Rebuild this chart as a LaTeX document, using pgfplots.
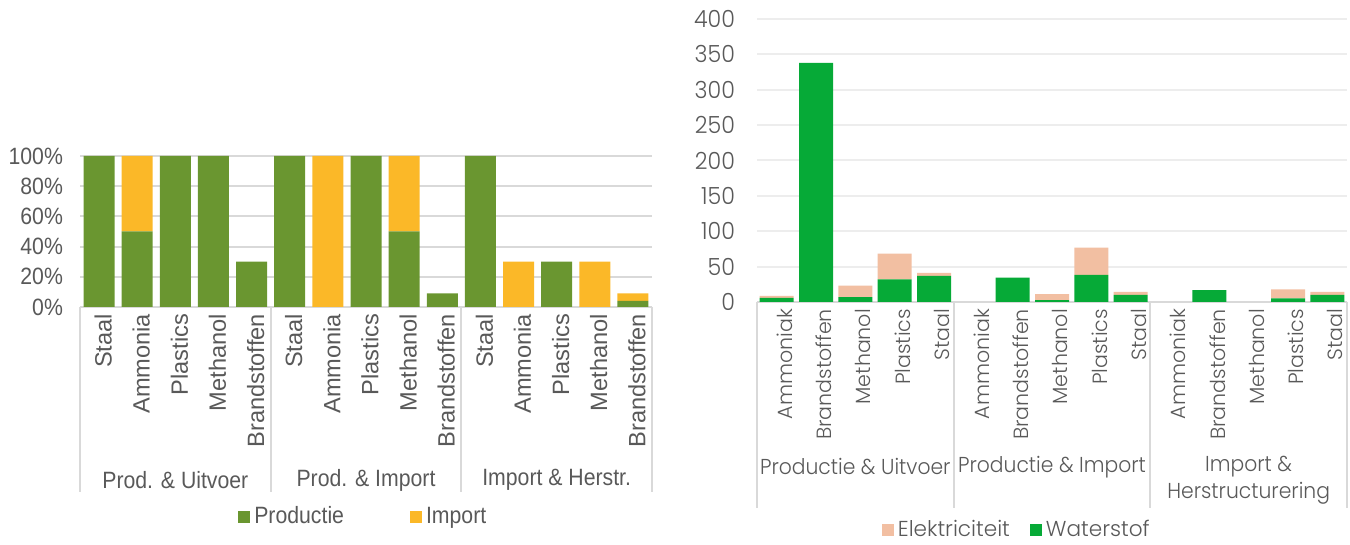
\documentclass[border=0pt]{standalone}
\usepackage{pgfplots}
\pgfplotsset{compat=1.18}
\usepackage{pgfplotstable}
\usepackage{fontspec}
\setmainfont{Liberation Sans}
\newfontfamily\narrowsans{Liberation Sans}[FakeStretch=0.9]
\newfontfamily\pop{Poppins Light}
\newfontfamily\narrowpop{Poppins Light}[FakeStretch=0.94]
\definecolor{prodgreen}{HTML}{6A9630}
\definecolor{impyellow}{HTML}{FBB828}
\definecolor{wgreen}{HTML}{06AA37}
\definecolor{epeach}{HTML}{F2BFA2}
\definecolor{txtgray}{HTML}{595959}
\definecolor{gridl}{HTML}{D9D9D9}
\definecolor{gridr}{HTML}{EDEDED}
\definecolor{sepgray}{HTML}{D9D9D9}

\pgfplotstableread{
x prod imp
0 100 0
1 50 50
2 100 0
3 100 0
4 30 0
5 100 0
6 0 100
7 100 0
8 50 50
9 9 0
10 100 0
11 0 30
12 30 0
13 0 30
14 4 5
}\lefttab

\pgfplotstableread{
x w e
0 6 2.5
1 338 0
2 7 16
3 32 36.5
4 37 4
5 0 0
6 34.5 0
7 2.5 8.5
8 38.5 38.5
9 10 4.3
10 0 0
11 16.7 0
12 0 0
13 5.2 12.8
14 10 4.3
}\righttab

\begin{document}
\begin{tikzpicture}[x=1pt,y=1pt]
\path[use as bounding box] (0,0) rectangle (675,272.5);

% ---------------- left chart ----------------
\begin{axis}[
  at={(40pt,119pt)}, anchor=south west,
  scale only axis, width=286pt, height=75.5pt,
  ybar stacked, bar width=15.5pt,
  xmin=-0.5, xmax=14.5, ymin=0, ymax=100,
  axis line style={draw=none},
  major tick length=0pt,
  ytick={0,20,40,60,80,100},
  yticklabels={0\%,20\%,40\%,60\%,80\%,100\%},
  ymajorgrids, grid style={gridl, line width=1pt},
  xtick={0,...,14},
  xticklabels={Staal,Ammonia,Plastics,Methanol,Brandstoffen,Staal,Ammonia,Plastics,Methanol,Brandstoffen,Staal,Ammonia,Plastics,Methanol,Brandstoffen},
  xticklabel style={rotate=90, anchor=east, text=txtgray, font=\fontsize{11.8}{13}\selectfont, yshift=-2pt},
  yticklabel style={anchor=east, text=txtgray, font=\narrowsans\fontsize{11.8}{13}\selectfont, xshift=-5pt},
  clip=false,
  legend columns=2,
  legend style={draw=none, at={(axis description cs:0.497,-1.39)}, anchor=center, font=\narrowsans\fontsize{11.8}{13}\selectfont, text=txtgray,
    /tikz/every even column/.append style={column sep=31pt}},
  legend image code/.code={\fill[#1] (0pt,-3pt) rectangle (6pt,3pt);},
]
\addplot[fill=prodgreen, draw=none] table[x=x,y=prod]{\lefttab};
\addplot[fill=impyellow, draw=none] table[x=x,y=imp]{\lefttab};
\legend{Productie,Import}
\draw[sepgray, line width=1pt] (axis cs:-0.5,0) -- (axis cs:14.5,0);
\pgfplotsinvokeforeach{-0.5,4.5,9.5,14.5}{
  \draw[sepgray, line width=1pt] (axis cs:#1,0) -- ([yshift=-92.5pt]axis cs:#1,0);
}
\node[text=txtgray, font=\narrowsans\fontsize{11.8}{13}\selectfont] at ([yshift=-86.5pt]axis cs:2,0) {Prod. \& Uitvoer};
\node[text=txtgray, font=\narrowsans\fontsize{11.8}{13}\selectfont] at ([yshift=-86.5pt]axis cs:7,0) {Prod. \& Import};
\node[text=txtgray, font=\narrowsans\fontsize{11.8}{13}\selectfont] at ([yshift=-86.5pt]axis cs:12,0) {Import \& Herstr.};
\end{axis}

% ---------------- right chart ----------------
\begin{axis}[
  at={(378.5pt,121.5pt)}, anchor=south west,
  scale only axis, width=295pt, height=141.5pt,
  ybar stacked, bar width=17pt,
  xmin=-0.5, xmax=14.5, ymin=0, ymax=400,
  axis line style={draw=none},
  major tick length=0pt,
  ytick={0,50,...,400},
  ymajorgrids, grid style={gridr, line width=1pt},
  xtick={0,...,14},
  xticklabels={Ammoniak,Brandstoffen,Methanol,Plastics,Staal,Ammoniak,Brandstoffen,Methanol,Plastics,Staal,Ammoniak,Brandstoffen,Methanol,Plastics,Staal},
  xticklabel style={rotate=90, anchor=east, text=txtgray, font=\pop\fontsize{10.3}{12}\selectfont, yshift=-4pt},
  yticklabel style={anchor=east, text=txtgray, font=\narrowpop\fontsize{11.8}{12}\selectfont, xshift=-7.5pt},
  /pgf/number format/assume math mode=true,
  clip=false,
  legend columns=2,
  reverse legend,
  legend style={draw=none, at={(axis description cs:0.442,-0.806)}, anchor=center, font=\pop\fontsize{10.8}{12}\selectfont, text=txtgray,
    /tikz/every even column/.append style={column sep=8pt}},
  legend image code/.code={\fill[#1] (0pt,-3pt) rectangle (6pt,3pt);},
]
\addplot[fill=wgreen, draw=none] table[x=x,y=w]{\righttab};
\addplot[fill=epeach, draw=none] table[x=x,y=e]{\righttab};
\legend{Waterstof,Elektriciteit}
\draw[sepgray, line width=1pt] (axis cs:-0.5,0) -- (axis cs:14.5,0);
\pgfplotsinvokeforeach{-0.5,4.5,9.5,14.5}{
  \draw[sepgray, line width=1pt] (axis cs:#1,0) -- ([yshift=-103pt]axis cs:#1,0);
}
\node[text=txtgray, font=\narrowpop\fontsize{10.8}{12}\selectfont] at ([yshift=-82.5pt]axis cs:2,0) {Productie \& Uitvoer};
\node[text=txtgray, font=\narrowpop\fontsize{10.8}{12}\selectfont] at ([yshift=-82.5pt]axis cs:7,0) {Productie \& Import};
\node[text=txtgray, font=\narrowpop\fontsize{10.8}{13.5}\selectfont, align=center] at ([yshift=-89.25pt]axis cs:12,0) {Import \&\\Herstructurering};
\end{axis}
\end{tikzpicture}
\end{document}
